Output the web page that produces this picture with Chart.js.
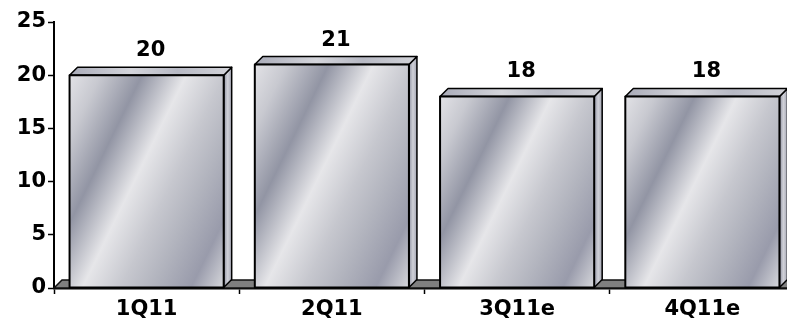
<!DOCTYPE html>
<html>
<head>
<meta charset="utf-8">
<script src="https://cdn.jsdelivr.net/npm/chart.js@4.4.1/dist/chart.umd.min.js"></script>
<style>
  html, body { margin: 0; padding: 0; background: #fff; overflow: hidden; }
  #wrap { width: 800px; height: 328px; }
</style>
</head>
<body>
<div id="wrap"><canvas id="chart"></canvas></div>
<script>
// Quarterly values, plotted as metallic 3D-look columns
const quarters = ['1Q11', '2Q11', '3Q11e', '4Q11e'];
const values = [20, 21, 18, 18];
const yTicks = [0, 5, 10, 15, 20, 25];

const DEPTH = 8;
const FONT = "bold 21px 'DejaVu Sans', Verdana, sans-serif";

// metallic stripes for the front of each column
function frontGradient(ctx, x, y, w, h) {
    const len = w * 0.9 + h * 0.44;
    const g = ctx.createLinearGradient(x, y, x + len * 0.9, y + len * 0.44);
    g.addColorStop(0.00, '#e2e2e6');
    g.addColorStop(0.12, '#c8c9d0');
    g.addColorStop(0.28, '#9295a4');
    g.addColorStop(0.45, '#e6e6e9');
    g.addColorStop(0.60, '#c6c7ce');
    g.addColorStop(0.72, '#b2b4be');
    g.addColorStop(0.87, '#999bab');
    g.addColorStop(1.00, '#d8d9dd');
    return g;
}

const columns3d = {
    id: 'columns3d',
    beforeDatasetsDraw(chart) {
        // grey floor under the columns
        const { ctx, chartArea: a } = chart;
        ctx.save();
        ctx.beginPath();
        ctx.moveTo(a.left, a.bottom);
        ctx.lineTo(a.left + DEPTH, a.bottom - DEPTH);
        ctx.lineTo(a.right + DEPTH, a.bottom - DEPTH);
        ctx.lineTo(a.right, a.bottom);
        ctx.closePath();
        ctx.fillStyle = '#7f7f7f';
        ctx.fill();
        ctx.lineWidth = 1.5;
        ctx.strokeStyle = '#111';
        ctx.stroke();
        ctx.restore();
    },
    afterDatasetsDraw(chart) {
        const { ctx } = chart;
        const meta = chart.getDatasetMeta(0);
        ctx.save();
        ctx.lineJoin = 'round';
        ctx.strokeStyle = '#000';
        meta.data.forEach((bar, i) => {
            const w = bar.width;
            const l = bar.x - w / 2, r = bar.x + w / 2;
            const t = bar.y, b = bar.base;

            // side face
            const sg = ctx.createLinearGradient(r, 0, r + DEPTH, 0);
            sg.addColorStop(0, '#9093a3');
            sg.addColorStop(0.5, '#d0d1d8');
            sg.addColorStop(1, '#a3a5b2');
            ctx.beginPath();
            ctx.moveTo(r, t);
            ctx.lineTo(r + DEPTH, t - DEPTH);
            ctx.lineTo(r + DEPTH, b - DEPTH);
            ctx.lineTo(r, b);
            ctx.closePath();
            ctx.fillStyle = sg;
            ctx.fill();
            ctx.lineWidth = 1.5;
            ctx.stroke();

            // top face
            const tg = ctx.createLinearGradient(l, 0, r, 0);
            tg.addColorStop(0, '#a9abb8');
            tg.addColorStop(0.4, '#d4d5db');
            tg.addColorStop(0.7, '#b7b9c4');
            tg.addColorStop(1, '#cfd0d6');
            ctx.beginPath();
            ctx.moveTo(l, t);
            ctx.lineTo(l + DEPTH, t - DEPTH);
            ctx.lineTo(r + DEPTH, t - DEPTH);
            ctx.lineTo(r, t);
            ctx.closePath();
            ctx.fillStyle = tg;
            ctx.fill();
            ctx.stroke();

            // front face
            ctx.fillStyle = frontGradient(ctx, l, t, w, b - t);
            ctx.fillRect(l, t, w, b - t);
            ctx.lineWidth = 2;
            ctx.strokeRect(l, t, w, b - t);

            // value label
            ctx.fillStyle = '#000';
            ctx.font = FONT;
            ctx.textAlign = 'center';
            ctx.textBaseline = 'alphabetic';
            ctx.fillText(String(values[i]), bar.x + DEPTH / 2, t - DEPTH - 11);
        });
        ctx.restore();
    }
};

new Chart(document.getElementById('chart'), {
    type: 'bar',
    data: {
        labels: quarters,
        datasets: [{
            data: values,
            backgroundColor: 'rgba(0,0,0,0)',
            borderWidth: 0,
            barPercentage: 0.832,
            categoryPercentage: 1
        }]
    },
    options: {
        responsive: true,
        maintainAspectRatio: false,
        animation: false,
        layout: { padding: { top: 22, right: 5, bottom: 0, left: 0 } },
        plugins: {
            legend: { display: false },
            tooltip: { enabled: false }
        },
        scales: {
            x: {
                offset: true,
                afterFit: (s) => { s.height = 40; },
                grid: {
                    offset: true,
                    drawOnChartArea: false,
                    tickLength: 6,
                    tickColor: '#000',
                    tickWidth: 1.5
                },
                border: { color: '#000', width: 2.5 },
                ticks: {
                    color: '#000',
                    padding: 3,
                    font: { family: "'DejaVu Sans', Verdana, sans-serif", size: 21, weight: 'bold' }
                }
            },
            y: {
                min: 0,
                max: 25,
                afterFit: (s) => { s.width = 54; },
                afterBuildTicks: (s) => { s.ticks = yTicks.map(v => ({ value: v })); },
                grid: {
                    drawOnChartArea: false,
                    tickLength: 6,
                    tickColor: '#000',
                    tickWidth: 1.5
                },
                border: { color: '#000', width: 2 },
                ticks: {
                    color: '#000',
                    padding: 2,
                    font: { family: "'DejaVu Sans', Verdana, sans-serif", size: 21, weight: 'bold' }
                }
            }
        }
    },
    plugins: [columns3d]
});
</script>
</body>
</html>
